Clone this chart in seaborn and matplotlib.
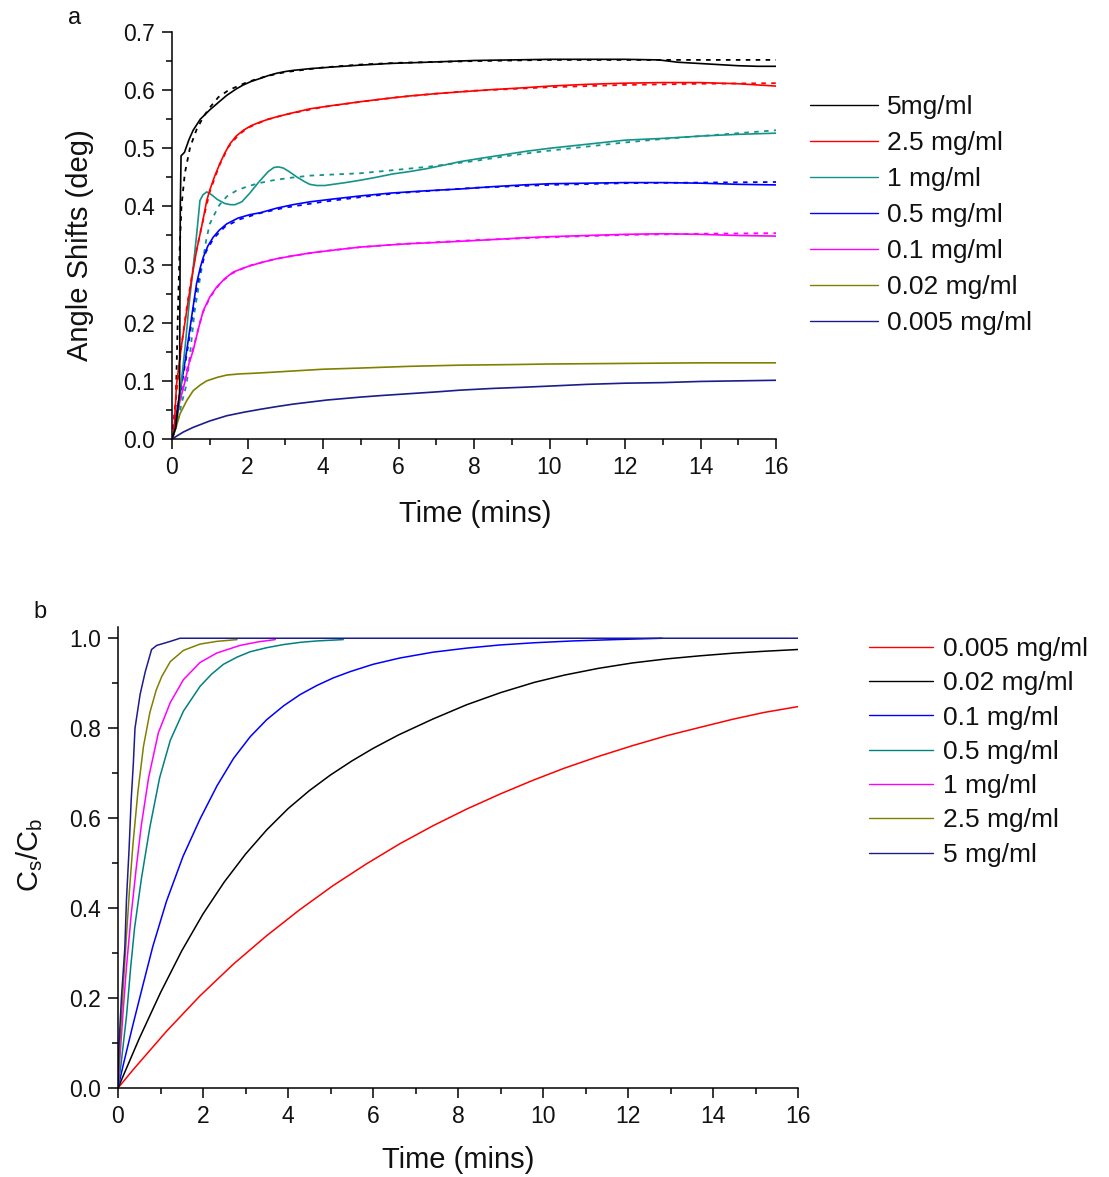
import matplotlib
matplotlib.use("Agg")
import matplotlib.pyplot as plt
from matplotlib.lines import Line2D
from matplotlib.ticker import MultipleLocator, FormatStrFormatter
import pandas as pd
import seaborn as sns

# ---------------- panel a: measured angle shifts (solid) and fits (dotted) ----------------
labels_a = ["5mg/ml", "2.5 mg/ml", "1 mg/ml", "0.5 mg/ml", "0.1 mg/ml", "0.02 mg/ml", "0.005 mg/ml"]
colors_a = ["#000000", "#ff0000", "#14938a", "#0000ff", "#ff00ff", "#808000", "#1c1c8c"]

t_5 = [0, 0.1, 0.2, 0.22, 0.24, 0.33, 0.45, 0.56, 0.75, 1.0, 1.25, 1.45, 1.7, 1.89, 2.1, 2.33, 2.55,
       2.77, 3.0, 3.21, 3.66, 4.3, 4.98, 5.8, 6.75, 8, 9, 10, 11, 12, 12.9, 13.4, 14.2, 15.0, 15.5, 16]
a_5 = [0, 0.02, 0.08, 0.40, 0.487, 0.493, 0.515, 0.531, 0.55, 0.566, 0.58, 0.591, 0.602, 0.609, 0.615,
       0.62, 0.625, 0.629, 0.632, 0.634, 0.637, 0.64, 0.643, 0.646, 0.648, 0.651, 0.652, 0.653, 0.653,
       0.653, 0.652, 0.648, 0.645, 0.642, 0.641, 0.641]
tf_5 = [0, 0.1, 0.15, 0.2, 0.25, 0.34, 0.48, 0.65, 0.83, 1.0, 1.23, 1.5, 2.0, 2.5, 3, 4, 5, 6, 8, 10, 12, 14, 16]
f_5 = [0, 0.06, 0.2, 0.32, 0.40, 0.457, 0.502, 0.532, 0.554, 0.57, 0.588, 0.6, 0.614, 0.624, 0.631,
       0.639, 0.644, 0.647, 0.65, 0.652, 0.652, 0.652, 0.652]

t_25 = [0, 0.05, 0.12, 0.25, 0.39, 0.52, 0.65, 0.8, 0.92, 1.0, 1.13, 1.27, 1.4, 1.54, 1.7, 1.89, 2.1,
        2.33, 2.55, 2.77, 3.2, 3.66, 4.3, 4.98, 5.6, 6.3, 7, 7.63, 8.5, 9.3, 10, 11, 12, 13, 14, 15, 15.5, 16]
a_25 = [0, 0.01, 0.094, 0.16, 0.221, 0.275, 0.324, 0.37, 0.41, 0.428, 0.452, 0.474, 0.492, 0.508,
        0.521, 0.531, 0.539, 0.545, 0.55, 0.554, 0.561, 0.568, 0.574, 0.58, 0.585, 0.59, 0.594, 0.597,
        0.601, 0.604, 0.607, 0.61, 0.612, 0.613, 0.613, 0.611, 0.609, 0.607]
tf_25 = [0, 0.1, 0.25, 0.4, 0.6, 0.8, 1.0, 1.25, 1.5, 1.75, 2, 2.5, 3, 4, 5, 6, 7, 8, 10, 12, 14, 16]
f_25 = [0, 0.07, 0.16, 0.23, 0.31, 0.37, 0.425, 0.47, 0.503, 0.522, 0.535, 0.549, 0.558, 0.571, 0.58,
        0.588, 0.594, 0.599, 0.605, 0.609, 0.611, 0.612]

t_1 = [0, 0.1, 0.2, 0.35, 0.45, 0.56, 0.65, 0.74, 0.82, 0.92, 1.05, 1.2, 1.4, 1.55, 1.67, 1.85, 2.05,
       2.3, 2.55, 2.7, 2.82, 2.95, 3.1, 3.3, 3.5, 3.65, 3.83, 4.05, 4.27, 4.6, 4.98, 5.4, 5.86, 6.3, 6.75,
       7.2, 7.63, 8.2, 8.8, 9.4, 10, 11, 12, 13, 14, 15, 16]
a_1 = [0, 0.02, 0.07, 0.16, 0.23, 0.295, 0.35, 0.41, 0.42, 0.425, 0.42, 0.412, 0.405, 0.403, 0.403,
       0.408, 0.422, 0.442, 0.46, 0.467, 0.468, 0.466, 0.46, 0.451, 0.443, 0.438, 0.436, 0.436, 0.438,
       0.441, 0.445, 0.45, 0.456, 0.46, 0.465, 0.471, 0.477, 0.483, 0.489, 0.495, 0.5, 0.507, 0.514,
       0.517, 0.521, 0.524, 0.526]
tf_1 = [0, 0.15, 0.25, 0.39, 0.5, 0.6, 0.79, 0.9, 1.0, 1.09, 1.25, 1.45, 1.7, 1.98, 2.3, 2.68, 3.1,
        3.66, 4.3, 4.98, 5.8, 6.75, 8, 9, 10, 11, 12, 13, 14, 15, 16]
f_1 = [0, 0.03, 0.06, 0.095, 0.16, 0.22, 0.295, 0.34, 0.37, 0.382, 0.402, 0.417, 0.427, 0.434, 0.44,
       0.445, 0.449, 0.453, 0.455, 0.457, 0.462, 0.468, 0.478, 0.488, 0.496, 0.503, 0.51, 0.516,
       0.521, 0.526, 0.531]

t_05 = [0, 0.05, 0.12, 0.25, 0.39, 0.52, 0.65, 0.75, 0.83, 0.95, 1.09, 1.25, 1.45, 1.75, 2.07, 2.33,
        2.77, 3.2, 3.66, 4.3, 4.98, 5.8, 6.75, 7.63, 8.5, 9.3, 10, 11, 12, 13, 14, 15, 16]
a_05 = [0, 0.01, 0.043, 0.095, 0.152, 0.21, 0.267, 0.295, 0.313, 0.332, 0.347, 0.359, 0.37, 0.38,
        0.386, 0.389, 0.397, 0.403, 0.408, 0.413, 0.418, 0.423, 0.427, 0.43, 0.434, 0.437, 0.439,
        0.44, 0.441, 0.441, 0.44, 0.438, 0.437]
tf_05 = [0, 0.15, 0.3, 0.45, 0.6, 0.75, 0.9, 1.1, 1.4, 1.8, 2.3, 3, 4, 5, 6, 8, 10, 12, 14, 16]
f_05 = [0, 0.05, 0.11, 0.17, 0.24, 0.29, 0.322, 0.345, 0.365, 0.378, 0.388, 0.398, 0.408, 0.416,
        0.423, 0.432, 0.437, 0.44, 0.441, 0.442]

t_01 = [0, 0.1, 0.21, 0.35, 0.45, 0.56, 0.7, 0.83, 1.0, 1.18, 1.4, 1.62, 1.85, 2.07, 2.4, 2.77, 3.2,
        3.66, 4.3, 4.98, 5.6, 6.3, 7, 7.63, 8.5, 9.3, 10, 11, 12, 13, 14, 15, 16]
a_01 = [0, 0.025, 0.066, 0.1, 0.13, 0.152, 0.19, 0.221, 0.244, 0.261, 0.276, 0.287, 0.293, 0.298,
        0.304, 0.31, 0.315, 0.32, 0.325, 0.33, 0.333, 0.336, 0.338, 0.34, 0.343, 0.346, 0.348, 0.35,
        0.352, 0.353, 0.352, 0.35, 0.349]
tf_01 = [0, 0.2, 0.4, 0.6, 0.8, 1, 1.3, 1.6, 2, 2.5, 3, 4, 5, 6, 8, 10, 12, 14, 16]
f_01 = [0, 0.06, 0.12, 0.165, 0.215, 0.243, 0.27, 0.285, 0.297, 0.306, 0.313, 0.323, 0.33, 0.335,
        0.342, 0.347, 0.351, 0.353, 0.354]

t_002 = [0, 0.08, 0.21, 0.39, 0.56, 0.75, 0.92, 1.2, 1.45, 1.8, 2.15, 2.7, 3.21, 4, 4.98, 6.3, 7.63,
         9, 10, 12, 14, 16]
a_002 = [0, 0.014, 0.043, 0.066, 0.083, 0.093, 0.1, 0.106, 0.11, 0.112, 0.113, 0.115, 0.117, 0.12,
         0.122, 0.125, 0.127, 0.128, 0.129, 0.13, 0.131, 0.131]

t_0005 = [0, 0.1, 0.3, 0.56, 1.0, 1.45, 1.9, 2.33, 2.8, 3.21, 4.1, 4.98, 5.6, 6.3, 7, 7.63, 8.5, 9.3,
          10, 11, 12, 13, 14, 15, 16]
a_0005 = [0, 0.004, 0.012, 0.02, 0.031, 0.04, 0.046, 0.051, 0.056, 0.06, 0.067, 0.072, 0.075, 0.078,
          0.081, 0.084, 0.087, 0.089, 0.091, 0.094, 0.096, 0.097, 0.099, 0.1, 0.101]

meas_a = [(t_5, a_5), (t_25, a_25), (t_1, a_1), (t_05, a_05), (t_01, a_01), (t_002, a_002), (t_0005, a_0005)]
fits_a = {"5mg/ml": (tf_5, f_5), "2.5 mg/ml": (tf_25, f_25), "1 mg/ml": (tf_1, f_1),
          "0.5 mg/ml": (tf_05, f_05), "0.1 mg/ml": (tf_01, f_01)}

# ---------------- panel b: surface / bulk concentration ratio ----------------
labels_b = ["0.005 mg/ml", "0.02 mg/ml", "0.1 mg/ml", "0.5 mg/ml", "1 mg/ml", "2.5 mg/ml", "5 mg/ml"]
colors_b = ["#ff0000", "#000000", "#0000ff", "#008080", "#ff00ff", "#808000", "#1c1c8c"]

tb_0005 = [0, 0.35, 1.14, 1.92, 2.71, 3.49, 4.27, 5.06, 5.84, 6.63, 7.41, 8.2, 9.0, 9.76, 10.5, 11.33,
           12.1, 12.9, 13.7, 14.47, 15.2, 16]
cb_0005 = [0, 0.04, 0.126, 0.204, 0.275, 0.338, 0.396, 0.45, 0.498, 0.543, 0.583, 0.62, 0.654, 0.684,
           0.711, 0.738, 0.761, 0.783, 0.802, 0.82, 0.835, 0.848]
tb_002 = [0, 0.5, 1.0, 1.5, 2.0, 2.5, 3.0, 3.5, 4.0, 4.5, 5.0, 5.5, 6.0, 6.6, 7.4, 8.2, 9.0, 9.8, 10.5,
          11.3, 12.1, 12.9, 13.7, 14.5, 15.2, 16]
cb_002 = [0, 0.11, 0.212, 0.305, 0.387, 0.458, 0.52, 0.574, 0.621, 0.661, 0.696, 0.727, 0.755, 0.785,
          0.82, 0.852, 0.879, 0.902, 0.918, 0.933, 0.945, 0.954, 0.961, 0.967, 0.971, 0.975]
tb_01 = [0, 0.12, 0.35, 0.59, 0.82, 1.14, 1.53, 1.93, 2.33, 2.72, 3.11, 3.5, 3.9, 4.29, 4.68, 5.07,
         5.47, 6.0, 6.63, 7.41, 8.2, 8.98, 9.8, 10.7, 11.7, 12.8]
cb_01 = [0, 0.05, 0.14, 0.23, 0.315, 0.415, 0.515, 0.598, 0.672, 0.733, 0.781, 0.819, 0.85, 0.875,
         0.895, 0.912, 0.926, 0.942, 0.956, 0.969, 0.978, 0.985, 0.99, 0.994, 0.997, 1.0]
tb_05 = [0, 0.08, 0.2, 0.3, 0.39, 0.55, 0.75, 0.98, 1.23, 1.54, 1.93, 2.2, 2.48, 2.8, 3.11, 3.5, 3.9,
         4.3, 4.68, 5.3]
cb_05 = [0, 0.06, 0.16, 0.27, 0.356, 0.465, 0.58, 0.69, 0.773, 0.838, 0.893, 0.92, 0.942, 0.958, 0.97,
         0.979, 0.986, 0.991, 0.994, 0.997]
tb_1 = [0, 0.04, 0.12, 0.2, 0.31, 0.43, 0.55, 0.72, 0.95, 1.23, 1.54, 1.93, 2.32, 2.87, 3.3, 3.7]
cb_1 = [0, 0.06, 0.17, 0.27, 0.385, 0.49, 0.585, 0.69, 0.79, 0.857, 0.908, 0.946, 0.967, 0.984,
        0.992, 0.997]
tb_25 = [0, 0.04, 0.12, 0.2, 0.27, 0.35, 0.47, 0.6, 0.75, 0.9, 1.03, 1.23, 1.54, 1.93, 2.32, 2.8]
cb_25 = [0, 0.09, 0.22, 0.34, 0.44, 0.54, 0.66, 0.76, 0.835, 0.885, 0.915, 0.948, 0.973, 0.987,
         0.993, 0.997]
tb_5 = [0, 0.02, 0.08, 0.16, 0.2, 0.26, 0.31, 0.36, 0.40, 0.52, 0.64, 0.79, 0.91, 1.23, 1.46, 16]
cb_5 = [0, 0.09, 0.2, 0.31, 0.42, 0.53, 0.64, 0.72, 0.8, 0.875, 0.925, 0.975, 0.984, 0.993, 1.0, 1.0]

series_b = [(tb_0005, cb_0005), (tb_002, cb_002), (tb_01, cb_01), (tb_05, cb_05), (tb_1, cb_1),
            (tb_25, cb_25), (tb_5, cb_5)]


def long_frame(labels, pairs):
    rows = []
    for lab, (t, v) in zip(labels, pairs):
        rows.append(pd.DataFrame({"time": t, "value": v, "conc": lab}))
    return pd.concat(rows, ignore_index=True)


df_a = long_frame(labels_a, meas_a)
df_fit = long_frame(list(fits_a.keys()), list(fits_a.values()))
df_b = long_frame(labels_b, series_b)

sns.set_theme(style="ticks")
plt.rcParams["font.family"] = ["Liberation Sans", "DejaVu Sans"]
plt.rcParams["mathtext.fontset"] = "custom"
plt.rcParams["mathtext.rm"] = "Liberation Sans"
plt.rcParams["mathtext.it"] = "Liberation Sans"
plt.rcParams["mathtext.default"] = "regular"

W, H = 1109, 1177
fig = plt.figure(figsize=(W / 100, H / 100), dpi=100)

ax_a = fig.add_axes([172 / W, 1 - 439 / H, 604 / W, 407 / H])
ax_b = fig.add_axes([118 / W, 1 - 1088 / H, 680 / W, 461 / H])

pal_a = dict(zip(labels_a, colors_a))
pal_b = dict(zip(labels_b, colors_b))

# fitted curves first, measured traces on top
sns.lineplot(data=df_fit, x="time", y="value", hue="conc", palette=pal_a, hue_order=list(fits_a.keys()),
             estimator=None, sort=False, legend=False, ax=ax_a, lw=1.3, linestyle=(0, (2.5, 3)))
sns.lineplot(data=df_a, x="time", y="value", hue="conc", palette=pal_a, hue_order=labels_a[::-1],
             estimator=None, sort=False, legend=False, ax=ax_a, lw=1.2)

sns.lineplot(data=df_b, x="time", y="value", hue="conc", palette=pal_b, hue_order=labels_b,
             estimator=None, sort=False, legend=False, ax=ax_b, lw=1.1)

tick_fs = 16.5
for ax in (ax_a, ax_b):
    sns.despine(ax=ax)
    ax.set_xlim(0, 16)
    ax.xaxis.set_major_locator(MultipleLocator(2))
    ax.xaxis.set_minor_locator(MultipleLocator(1))
    ax.tick_params(which="major", direction="out", length=7.5, width=1.1, color="black",
                   labelsize=tick_fs, pad=5, labelcolor="#111111")
    ax.tick_params(which="minor", direction="out", length=4.5, width=1.1, color="black")
    for s in ("left", "bottom"):
        ax.spines[s].set_linewidth(1.1)
        ax.spines[s].set_color("black")
    ax.set_xlabel("")
    ax.set_ylabel("")
    ax.set_facecolor("white")

ax_a.set_ylim(0, 0.7)
ax_a.yaxis.set_major_locator(MultipleLocator(0.1))
ax_a.yaxis.set_minor_locator(MultipleLocator(0.05))
ax_a.yaxis.set_major_formatter(FormatStrFormatter("%.1f"))

ax_b.set_ylim(0, 1.025)
ax_b.yaxis.set_major_locator(MultipleLocator(0.2))
ax_b.yaxis.set_minor_locator(MultipleLocator(0.1))
ax_b.yaxis.set_major_formatter(FormatStrFormatter("%.1f"))

lab_fs = 21
fig.text(80 / W, 1 - 245 / H, "Angle Shifts (deg)", rotation=90, ha="center", va="center",
         fontsize=lab_fs, color="#111111")
fig.text(475 / W, 1 - 514 / H, "Time (mins)", ha="center", va="center", fontsize=lab_fs, color="#111111")
fig.text(30 / W, 1 - 855 / H, r"C$_\mathregular{s}$/C$_\mathregular{b}$", rotation=90, ha="center",
         va="center", fontsize=lab_fs, color="#111111")
fig.text(458 / W, 1 - 1160 / H, "Time (mins)", ha="center", va="center", fontsize=lab_fs, color="#111111")
fig.text(75 / W, 1 - 18 / H, "a", ha="center", va="center", fontsize=17, color="#111111")
fig.text(40 / W, 1 - 612 / H, "b", ha="center", va="center", fontsize=17, color="#111111")

leg_fs = 19
handles_a = [Line2D([], [], color=c, lw=1.0) for c in colors_a]
fig.legend(handles_a, labels_a, loc="upper left", bbox_to_anchor=(810 / W, 1 - 95 / H), frameon=False,
           fontsize=leg_fs, handlelength=2.58, handletextpad=0.34, labelspacing=0.455, borderpad=0,
           borderaxespad=0, labelcolor="#111111")
handles_b = [Line2D([], [], color=c, lw=1.0) for c in colors_b]
fig.legend(handles_b, labels_b, loc="upper left", bbox_to_anchor=(869 / W, 1 - 637 / H), frameon=False,
           fontsize=leg_fs, handlelength=2.42, handletextpad=0.38, labelspacing=0.39, borderpad=0,
           borderaxespad=0, labelcolor="#111111")

fig.savefig("out.png", dpi=100, facecolor="white")
